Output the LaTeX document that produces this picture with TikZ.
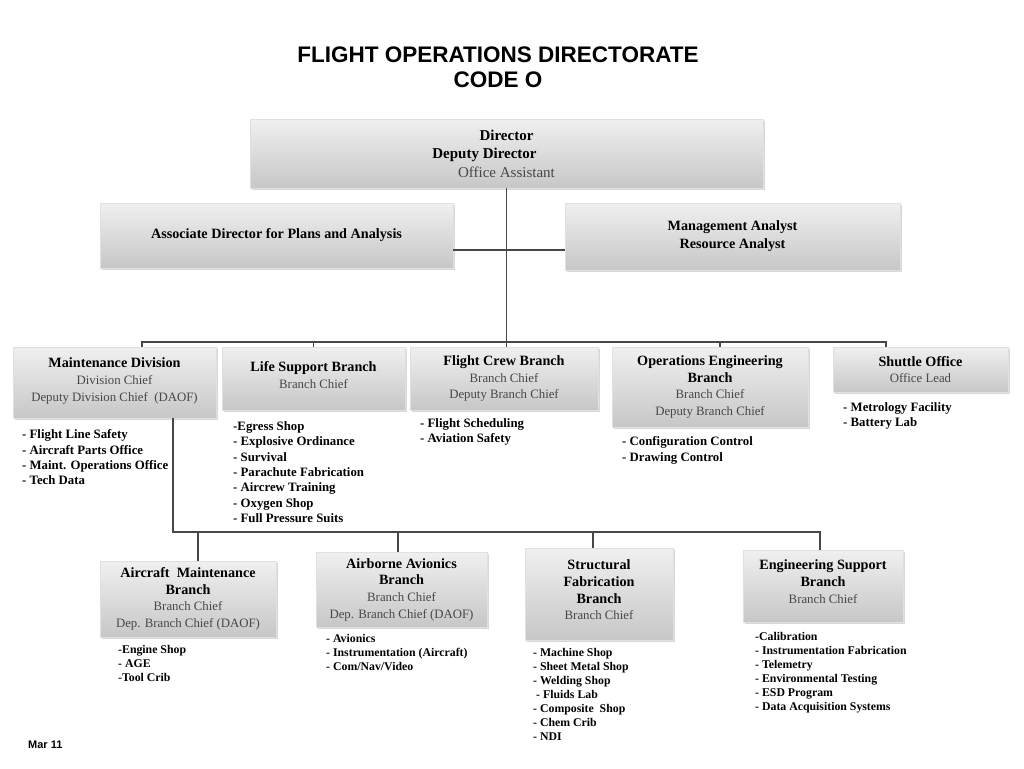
\documentclass[tikz,border=0pt]{standalone}
\usepackage{fontspec}
\setmainfont{Liberation Serif}
\newfontfamily\titlefont{Liberation Sans}
\usetikzlibrary{shadows}
\newcommand{\hd}[1]{{\fontsize{14.2}{16.7}\selectfont\bfseries #1}}
\newcommand{\subt}[1]{\textcolor{black!72}{#1}}
\tikzset{
  box/.style={rectangle, draw=black!12, top color=black!6, middle color=white, bottom color=black!22,
    drop shadow={opacity=0.3, shadow xshift=1.5pt, shadow yshift=-2pt},
    align=center, inner sep=2pt, font=\fontsize{12.8}{16.7}\selectfont},
  conn/.style={draw=black!72, line width=1.3pt},
  lst/.style={anchor=north west, align=left, inner sep=0pt, font=\fontsize{12.8}{15.3}\selectfont\bfseries},
  lstb/.style={anchor=north west, align=left, inner sep=0pt, font=\fontsize{11.8}{14}\selectfont\bfseries},
}
\begin{document}
\begin{tikzpicture}[x=1pt, y=-1pt]
\fill[white] (0,0) rectangle (1024,768);
\useasboundingbox (0,0) rectangle (1024,768);

\node[font=\titlefont\fontsize{22.5}{25}\selectfont\bfseries, align=center] (title) at (498,67)
  {FLIGHT OPERATIONS DIRECTORATE\\CODE O};

% top level
\node[box, minimum width=513pt, minimum height=69pt, font=\fontsize{15}{18.5}\selectfont] (dir) at (506.5,153.5)
  {\textbf{Director}\\\textbf{Deputy Director}\rule{44pt}{0pt}\\\subt{Office Assistant}};
\node[box, minimum width=353pt, minimum height=65pt] (ad) at (276.5,235.5)
  {\hd{Associate Director for Plans and Analysis}};
\node[box, minimum width=335pt, minimum height=67pt, font=\fontsize{12.8}{18}\selectfont] (ma) at (732.5,236.5)
  {\hd{Management Analyst}\\\hd{Resource Analyst}};

% row 1
\node[box, minimum width=203pt, minimum height=71pt] (md) at (114.5,382.5)
  {\hd{Maintenance Division}\\\subt{Division Chief}\\\subt{Deputy Division Chief\enspace(DAOF)}\\[-11pt]};
\node[box, minimum width=183pt, minimum height=63pt] (ls) at (313.5,378.5)
  {\hd{Life Support Branch}\\\subt{Branch Chief}\\[-10pt]};
\node[box, minimum width=188pt, minimum height=63pt] (fc) at (504,378.5)
  {\hd{Flight Crew Branch}\\\subt{Branch Chief}\\\subt{Deputy Branch Chief}};
\node[box, minimum width=196pt, minimum height=80pt] (oe) at (710,387)
  {\hd{Operations Engineering}\\\hd{Branch}\\\subt{Branch Chief}\\\subt{Deputy Branch Chief}};
\node[box, minimum width=175pt, minimum height=45pt] (so) at (920.5,369.5)
  {\hd{Shuttle Office}\\\subt{Office Lead}};

% row 1 lists
\node[lst] (mdl) at (22,429.5) {- Flight Line Safety\\- Aircraft Parts Office\\- Maint. Operations Office\\- Tech Data};
\node[lst] (lsl) at (233,421.5) {-Egress Shop\\- Explosive Ordinance\\- Survival\\- Parachute Fabrication\\- Aircrew Training\\- Oxygen Shop\\- Full Pressure Suits};
\node[lst] (fcl) at (420,418.5) {- Flight Scheduling\\- Aviation Safety};
\node[lst] (oel) at (622,436.5) {- Configuration Control\\- Drawing Control};
\node[lst] (sol) at (843,402.5) {- Metrology Facility\\- Battery Lab};

% row 2
\node[box, minimum width=176pt, minimum height=76pt] (am) at (188,599)
  {\hd{Aircraft\enspace Maintenance}\\\hd{Branch}\\\subt{Branch Chief}\\\subt{Dep. Branch Chief (DAOF)}};
\node[box, minimum width=171pt, minimum height=75pt] (av) at (401.5,589.5)
  {\hd{Airborne Avionics}\\\hd{Branch}\\\subt{Branch Chief}\\\subt{Dep. Branch Chief (DAOF)}};
\node[box, minimum width=148pt, minimum height=92pt] (sf) at (599,594)
  {\hd{Structural}\\\hd{Fabrication}\\\hd{Branch}\\\subt{Branch Chief}\\[-8.5pt]};
\node[box, minimum width=160pt, minimum height=72pt] (es) at (823,586)
  {\hd{Engineering Support}\\\hd{Branch}\\\subt{Branch Chief}\\[-7.5pt]};

% row 2 lists
\node[lstb] (aml) at (118,645) {-Engine Shop\\- AGE\\-Tool Crib};
\node[lstb] (avl) at (326,634) {- Avionics\\- Instrumentation (Aircraft)\\- Com/Nav/Video};
\node[lstb] (sfl) at (533,648) {- Machine Shop\\- Sheet Metal Shop\\- Welding Shop\\\hspace*{3pt}- Fluids Lab\\- Composite\enspace Shop\\- Chem Crib\\- NDI};
\node[lstb] (esl) at (755,632) {-Calibration\\- Instrumentation Fabrication\\- Telemetry\\- Environmental Testing\\- ESD Program\\- Data Acquisition Systems};

\node[font=\titlefont\fontsize{11}{12}\selectfont\bfseries, anchor=west, inner sep=0pt] (date) at (28,745) {Mar 11};

% connectors
\coordinate (h) at (0,250);
\coordinate (b1) at (142,342);
\coordinate (b2) at (886,342);
\coordinate (b3) at (720,342);
\coordinate (c1) at (173,532);
\coordinate (c2) at (820,532);
\coordinate (t1) at (198,532);
\coordinate (t2) at (398,532);
\coordinate (t3) at (593,532);

\draw[conn] (dir.south) -- (dir.south |- fc.north);
\draw[conn] (ad.east |- h) -- (ma.west |- h);
\draw[conn] (md.north -| b1) -- (b1) -- (b2) -- (so.north -| b2);
\draw[conn] (ls.north) -- (ls.north |- b1);
\draw[conn] (oe.north -| b3) -- (b3);
\draw[conn] (md.south -| c1) -- (c1) -- (c2) -- (es.north -| c2);
\draw[conn] (am.north -| t1) -- (t1);
\draw[conn] (av.north -| t2) -- (t2);
\draw[conn] (sf.north -| t3) -- (t3);
\end{tikzpicture}
\end{document}
